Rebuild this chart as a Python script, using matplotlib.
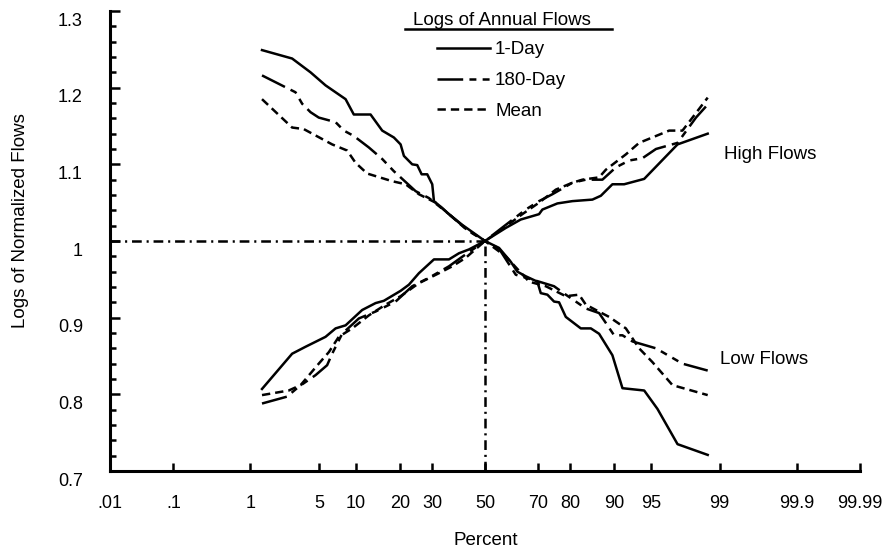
import numpy as np
import matplotlib
matplotlib.use('Agg')
import matplotlib.pyplot as plt
from matplotlib.ticker import MultipleLocator
from matplotlib.transforms import ScaledTranslation
from statistics import NormalDist

plt.rcParams['font.family'] = ['Liberation Sans', 'DejaVu Sans']
plt.rcParams['lines.scale_dashes'] = False

# Plotting positions (percent) and logs of normalized annual flows
low_1day_pct = [1.35, 2.79, 4.18, 5.69, 8.34, 9.66, 12.82, 15.40, 18.31, 20.13,
                21.06, 23.52, 25.08, 26.49, 28.34, 30.04, 30.63, 33.58, 36.04, 41.09,
                50.0, 55.53, 60.07, 62.58, 65.69, 69.82, 70.99, 73.19, 75.33, 76.87,
                78.85, 82.90, 85.31, 87.11, 89.68, 91.36, 94.28, 95.64, 97.19, 98.64]
low_1day_val = [1.249, 1.238, 1.220, 1.203, 1.185, 1.165, 1.165, 1.144, 1.135, 1.126,
                1.111, 1.100, 1.099, 1.087, 1.087, 1.074, 1.052, 1.043, 1.035, 1.021,
                1.000, 0.991, 0.973, 0.960, 0.954, 0.947, 0.932, 0.930, 0.921, 0.920,
                0.901, 0.886, 0.886, 0.879, 0.851, 0.808, 0.805, 0.781, 0.735, 0.721]

low_180_pct = [1.35, 3.01, 3.49, 4.18, 4.96, 6.92, 8.08, 9.66, 12.47, 15.40,
               18.31, 24.57, 28.91, 36.04, 40.47, 45.0, 50.0, 55.53, 61.98, 70.40,
               75.33, 78.85, 84.13, 87.11, 88.47, 89.98, 91.36, 92.82, 95.50, 97.49, 98.64]
low_180_val = [1.216, 1.194, 1.179, 1.168, 1.161, 1.155, 1.144, 1.137, 1.122, 1.107,
               1.091, 1.065, 1.056, 1.035, 1.022, 1.010, 1.000, 0.990, 0.956, 0.947,
               0.941, 0.930, 0.912, 0.906, 0.893, 0.877, 0.877, 0.869, 0.860, 0.840, 0.831]

low_mean_pct = [1.35, 2.79, 3.61, 6.48, 8.58, 9.96, 12.13, 17.87, 21.56, 25.61,
                31.22, 36.04, 42.0, 50.0, 58.14, 66.89, 72.67, 78.85, 82.46, 84.13,
                86.43, 89.08, 91.88, 93.68, 95.16, 96.85, 97.69, 98.64]
low_mean_val = [1.185, 1.148, 1.146, 1.126, 1.118, 1.102, 1.088, 1.078, 1.074, 1.061,
                1.050, 1.035, 1.017, 1.000, 0.980, 0.947, 0.941, 0.928, 0.930, 0.917,
                0.910, 0.901, 0.886, 0.860, 0.842, 0.812, 0.807, 0.799]

high_1day_pct = [1.35, 2.79, 3.75, 5.69, 6.92, 8.34, 11.16, 13.89, 15.79, 20.13,
                 22.52, 25.61, 30.63, 36.04, 39.81, 43.69, 50.0, 58.14, 63.85, 70.40,
                 71.53, 76.36, 80.69, 85.66, 87.47, 89.68, 91.62, 94.28, 97.19, 98.64]
high_1day_val = [0.807, 0.853, 0.862, 0.875, 0.886, 0.890, 0.910, 0.919, 0.922, 0.935,
                 0.943, 0.958, 0.976, 0.976, 0.984, 0.989, 1.000, 1.017, 1.028, 1.035,
                 1.041, 1.049, 1.052, 1.054, 1.059, 1.074, 1.074, 1.081, 1.126, 1.140]

high_180_pct = [1.35, 2.48, 3.24, 4.64, 5.87, 6.48, 7.83, 10.55, 13.89, 18.77,
                23.52, 28.91, 36.04, 40.47, 50.0, 58.14, 65.69, 70.40, 74.80, 80.69,
                84.13, 87.79, 90.28, 92.36, 94.08, 95.50, 97.19, 98.18, 98.64]
high_180_val = [0.788, 0.797, 0.810, 0.825, 0.838, 0.853, 0.879, 0.899, 0.908, 0.921,
                0.941, 0.952, 0.967, 0.978, 1.000, 1.021, 1.041, 1.052, 1.061, 1.076,
                1.080, 1.080, 1.096, 1.105, 1.108, 1.120, 1.128, 1.161, 1.178]

high_mean_pct = [1.35, 2.58, 3.37, 4.96, 6.07, 7.35, 9.39, 12.47, 16.21, 20.13,
                 25.61, 32.39, 37.27, 42.40, 50.0, 58.14, 64.44, 70.40, 75.87, 80.69,
                 83.30, 87.11, 88.47, 91.88, 93.68, 96.61, 97.49, 98.02, 98.64]
high_mean_val = [0.799, 0.805, 0.812, 0.840, 0.855, 0.875, 0.886, 0.903, 0.917, 0.928,
                 0.945, 0.958, 0.967, 0.978, 1.000, 1.019, 1.035, 1.050, 1.067, 1.076,
                 1.080, 1.083, 1.093, 1.113, 1.128, 1.144, 1.144, 1.161, 1.187]

median_pct = 50
median_val = 1.0

x_ticks = [0.01, 0.1, 1, 5, 10, 20, 30, 50, 70, 80, 90, 95, 99, 99.9, 99.99]
x_tick_labels = ['.01', '.1', '1', '5', '10', '20', '30', '50', '70', '80', '90',
                 '95', '99', '99.9', '99.99']
y_ticks = [0.7, 0.8, 0.9, 1.0, 1.1, 1.2, 1.3]
y_tick_labels = ['0.7', '0.8', '0.9', '1', '1.1', '1.2', '1.3']

# normal probability scale
nd = NormalDist()
_inv = np.vectorize(nd.inv_cdf, otypes=[float])
_cdf = np.vectorize(nd.cdf, otypes=[float])


def pct_to_z(p):
    p = np.clip(np.asarray(p, dtype=float) / 100.0, 1e-9, 1 - 1e-9)
    return _inv(p)


def z_to_pct(z):
    return _cdf(np.asarray(z, dtype=float)) * 100.0


solid = '-'
dash_180 = (0, (18.5, 4.5, 5, 4.5, 5, 4.5))
dash_mean = (0, (6, 3.6))
dash_dot = (0, (7, 3.5, 1.5, 3.5))
lw = 1.8
fs_tick = 13
fs_text = 13.5

fig = plt.figure(figsize=(8.85, 5.57), dpi=100)
ax = fig.add_axes([110 / 885, 1 - 471 / 557, 750 / 885, 460 / 557])
ax.set_xscale('function', functions=(pct_to_z, z_to_pct))

h1, = ax.plot(low_1day_pct, low_1day_val, color='black', lw=lw, ls=solid, label='1-Day')
h2, = ax.plot(low_180_pct, low_180_val, color='black', lw=lw, ls=dash_180, label='180-Day')
h3, = ax.plot(low_mean_pct, low_mean_val, color='black', lw=lw, ls=dash_mean, label='Mean')
ax.plot(high_1day_pct, high_1day_val, color='black', lw=lw, ls=solid)
ax.plot(high_180_pct, high_180_val, color='black', lw=lw, ls=dash_180)
ax.plot(high_mean_pct, high_mean_val, color='black', lw=lw, ls=dash_mean)

# median cross-hairs
ax.plot([x_ticks[0], median_pct], [median_val, median_val], color='black', lw=lw, ls=dash_dot)
ax.plot([median_pct, median_pct], [y_ticks[0], median_val], color='black', lw=lw, ls=dash_dot)

ax.set_xlim(x_ticks[0], x_ticks[-1])
ax.set_ylim(y_ticks[0], y_ticks[-1])

ax.set_xticks(x_ticks, labels=x_tick_labels)
ax.set_yticks(y_ticks, labels=y_tick_labels)
ax.yaxis.set_minor_locator(MultipleLocator(0.02))
ax.xaxis.set_minor_locator(plt.NullLocator())

for s in ['top', 'right']:
    ax.spines[s].set_visible(False)
for s in ['left', 'bottom']:
    ax.spines[s].set_linewidth(2.2)

ax.tick_params(axis='x', which='major', direction='in', length=6, width=1.8,
               pad=17, labelsize=fs_tick)
ax.tick_params(axis='y', which='major', direction='in', length=7, width=1.8,
               pad=19.5, labelsize=fs_tick)
ax.tick_params(axis='y', which='minor', direction='in', length=4.5, width=1.8)

# tick labels sit a little below their ticks
shift = ScaledTranslation(0, -0.08, fig.dpi_scale_trans)
for lbl in ax.get_yticklabels():
    lbl.set_transform(lbl.get_transform() + shift)

ax.set_ylabel('Logs of Normalized Flows', fontsize=fs_text, va='center')
ax.yaxis.set_label_coords(-0.12, 0.545)
ax.set_xlabel('Percent', fontsize=fs_text, va='center')
ax.xaxis.set_label_coords(0.501, -0.152)

ax.text(99.1, 1.113, 'High Flows', fontsize=fs_text, ha='left', va='center')
ax.text(99.0, 0.846, 'Low Flows', fontsize=fs_text, ha='left', va='center')

# legend: underlined title above the three line samples
ax.text(0.523, 0.979, 'Logs of Annual Flows', fontsize=fs_text, ha='center', va='center',
        transform=ax.transAxes)
ax.plot([0.3933, 0.6693], [0.9609, 0.9609], color='black', lw=1.8,
        transform=ax.transAxes, clip_on=False)
leg = ax.legend(handles=[h1, h2, h3], loc='upper left', bbox_to_anchor=(0.436, 0.934),
                frameon=False, fontsize=fs_text, handlelength=2.83, handletextpad=0.27,
                labelspacing=0.72, borderpad=0, borderaxespad=0)

fig.savefig('out.png', dpi=100)
